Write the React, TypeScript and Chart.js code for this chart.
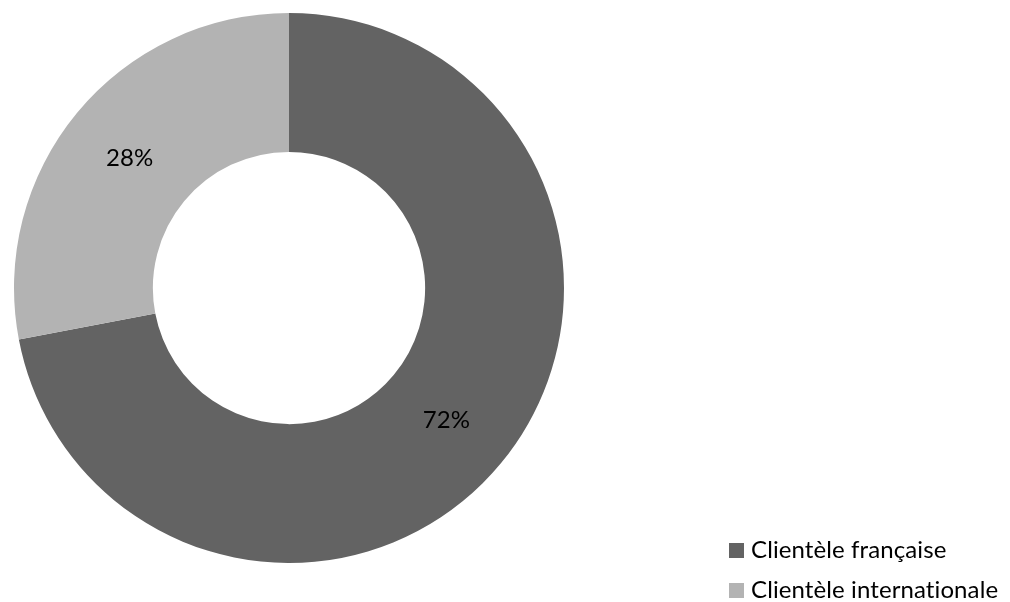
import React, { useEffect, useRef } from "react";
import { Chart, registerables } from "chart.js";

Chart.register(...registerables);

const categories = ["Clientèle française", "Clientèle internationale"];
const values = [72, 28];
const colors = ["#636363", "#b3b3b3"];
const FONT = "Lato, 'Noto Sans', sans-serif";

const labelPlugin = {
  id: "sliceLabels",
  afterDatasetsDraw(chart: any) {
    const ctx = chart.ctx;
    const meta = chart.getDatasetMeta(0);
    const data = chart.data.datasets[0].data as number[];
    ctx.save();
    ctx.fillStyle = "#000";
    ctx.font = `24px ${FONT}`;
    (ctx as any).letterSpacing = "0.1px";
    ctx.textAlign = "center";
    ctx.textBaseline = "middle";
    meta.data.forEach((arc: any, i: number) => {
      const p = arc.tooltipPosition();
      ctx.fillText(`${data[i]}%`, p.x - 1, p.y + 1);
    });
    ctx.restore();
  },
};

const legendPlugin = {
  id: "customLegend",
  afterDraw(chart: any) {
    const ctx = chart.ctx;
    const labels = chart.data.labels as string[];
    const bg = chart.data.datasets[0].backgroundColor as string[];
    ctx.save();
    ctx.font = `24px ${FONT}`;
    (ctx as any).letterSpacing = "0.1px";
    ctx.textBaseline = "middle";
    ctx.textAlign = "left";
    labels.forEach((l, i) => {
      const cy = 550 + i * 40;
      ctx.fillStyle = bg[i];
      ctx.fillRect(729, cy - 7, 15, 15);
      ctx.fillStyle = "#000";
      ctx.fillText(l, 751, cy);
    });
    ctx.restore();
  },
};

export default function App() {
  const ref = useRef<HTMLCanvasElement>(null);
  useEffect(() => {
    document.body.style.margin = "0";
    let chart: Chart | null = null;
    let cancelled = false;
    const make = () => {
      if (cancelled || !ref.current) return;
      chart = new Chart(ref.current, {
        type: "doughnut",
        data: {
          labels: categories,
          datasets: [
            {
              data: values,
              backgroundColor: colors,
              borderWidth: 0,
            },
          ],
        },
        options: {
          animation: false,
          responsive: false,
          cutout: "49.5%",
          layout: { padding: { left: 14, top: 13, bottom: 39, right: 446 } },
          plugins: { legend: { display: false }, tooltip: { enabled: false } },
        },
        plugins: [labelPlugin, legendPlugin],
      });
    };
    Promise.all([
      document.fonts.load("24px Lato"),
      document.fonts.load("24px Lato", "0123456789%"),
    ])
      .catch(() => null)
      .then(make);
    return () => {
      cancelled = true;
      if (chart) chart.destroy();
    };
  }, []);
  return (
    <div style={{ width: 1010, height: 602, background: "#fff" }}>
      <canvas ref={ref} width={1010} height={602} style={{ display: "block" }} />
    </div>
  );
}
